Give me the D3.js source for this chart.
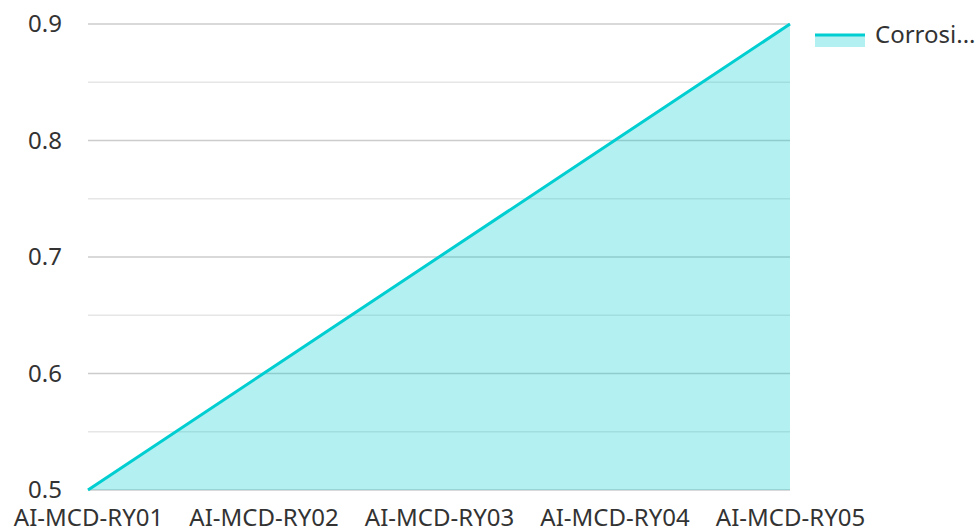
<!DOCTYPE html>
<html>
<head>
<meta charset="utf-8">
<script src="https://cdn.jsdelivr.net/npm/d3@7/dist/d3.min.js"></script>
<style>
  html, body { margin: 0; padding: 0; background: #fff; }
  svg { display: block; font-family: "Noto Sans", "Open Sans", sans-serif; }
</style>
</head>
<body>
<svg id="chart" width="980" height="532"></svg>
<script>
const categories = ["AI-MCD-RY01", "AI-MCD-RY02", "AI-MCD-RY03", "AI-MCD-RY04", "AI-MCD-RY05"];
const seriesName = "Corrosi...";
const seriesValues = [0.5, 0.6, 0.7, 0.8, 0.9];
const majorTicks = [0.5, 0.6, 0.7, 0.8, 0.9];
const minorTicks = [0.55, 0.65, 0.75, 0.85];

const color = "#00CED1";
const textColor = "#333333";
const fontSize = 24;
const svg = d3.select("#chart");
const margin = { left: 88, right: 190, top: 24, bottom: 42 };
const W = 980, H = 532;

const x = d3.scalePoint().domain(categories).range([margin.left, W - margin.right]);
const y = d3.scaleLinear().domain([0.5, 0.9]).range([H - margin.bottom, margin.top]);

// grid lines
svg.append("g").selectAll("line").data(minorTicks).join("line")
  .attr("x1", margin.left).attr("x2", W - margin.right)
  .attr("y1", d => y(d)).attr("y2", d => y(d))
  .attr("stroke", "#e6e6e6").attr("stroke-width", 1.5);
svg.append("g").selectAll("line").data(majorTicks).join("line")
  .attr("x1", margin.left).attr("x2", W - margin.right)
  .attr("y1", d => y(d)).attr("y2", d => y(d))
  .attr("stroke", "#cccccc").attr("stroke-width", 1.5);

// area + line
const pts = categories.map((c, i) => ({ c, v: seriesValues[i] }));
svg.append("path").datum(pts)
  .attr("d", d3.area().x(d => x(d.c)).y0(y(0.5)).y1(d => y(d.v)))
  .attr("fill", color).attr("fill-opacity", 0.3);
svg.append("path").datum(pts)
  .attr("d", d3.line().x(d => x(d.c)).y(d => y(d.v)))
  .attr("fill", "none").attr("stroke", color).attr("stroke-width", 3);

// y axis labels
const yAxis = d3.axisLeft(y).tickValues(majorTicks).tickSize(0).tickPadding(0).tickFormat(d3.format(".1f"));
const gy = svg.append("g").attr("transform", `translate(${margin.left - 26},0)`).call(yAxis);
gy.select(".domain").remove();
gy.attr("font-size", fontSize).attr("font-family", null);
gy.selectAll("text").attr("fill", textColor);

// x axis labels
const xAxis = d3.axisBottom(x).tickSize(0).tickPadding(0);
const gx = svg.append("g").attr("transform", `translate(0,${H - 23})`).call(xAxis);
gx.select(".domain").remove();
gx.attr("font-size", fontSize).attr("font-family", null);
gx.selectAll("text").attr("fill", textColor);

// legend
const lg = svg.append("g").attr("transform", "translate(815,35)");
lg.append("rect").attr("x", 0).attr("y", 0).attr("width", 50).attr("height", 12)
  .attr("fill", color).attr("fill-opacity", 0.3);
lg.append("line").attr("x1", 0).attr("x2", 50).attr("y1", 0).attr("y2", 0)
  .attr("stroke", color).attr("stroke-width", 3);
lg.append("text").attr("x", 60).attr("y", 0).attr("dy", "0.35em")
  .attr("font-size", fontSize).attr("fill", textColor).text(seriesName);
</script>
</body>
</html>
